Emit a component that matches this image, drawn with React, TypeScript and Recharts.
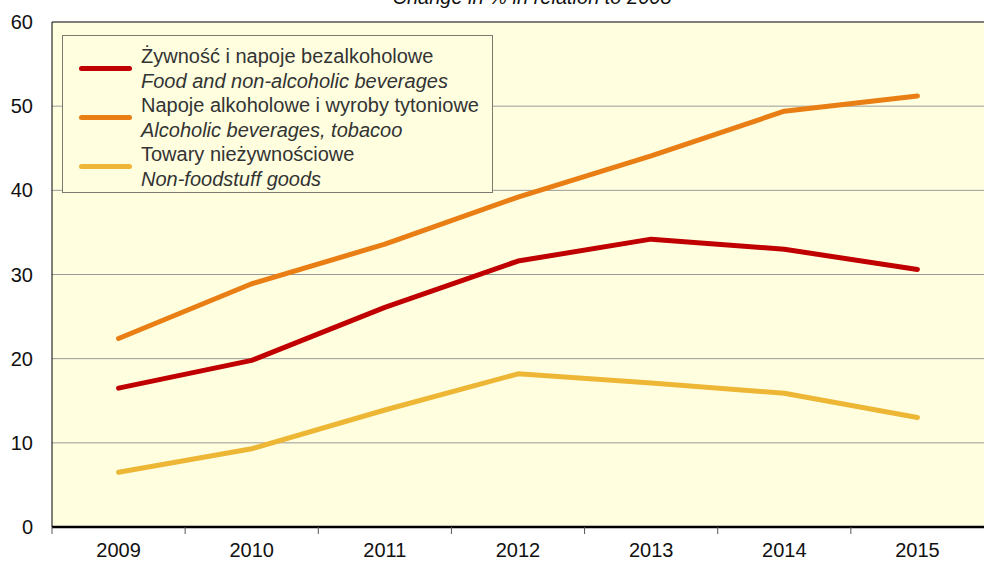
import React from 'react';
import { LineChart, Line, XAxis, YAxis, CartesianGrid, ReferenceLine, Legend, Customized } from 'recharts';

const years = ['2009', '2010', '2011', '2012', '2013', '2014', '2015'];
const food = [16.5, 19.8, 26.1, 31.6, 34.2, 33.0, 30.6];
const alcohol = [22.4, 28.9, 33.6, 39.2, 44.1, 49.4, 51.2];
const nonFood = [6.5, 9.3, 13.9, 18.2, 17.1, 15.9, 13.0];
const yTicks = [0, 10, 20, 30, 40, 50, 60];

const seriesInfo = [
  { key: 'food', color: '#C00000', pl: 'Żywność i napoje bezalkoholowe', en: 'Food and non-alcoholic beverages' },
  { key: 'alcohol', color: '#E97E14', pl: 'Napoje alkoholowe i wyroby tytoniowe', en: 'Alcoholic beverages, tobacoo' },
  { key: 'nonFood', color: '#EDB735', pl: 'Towary nieżywnościowe', en: 'Non-foodstuff goods' },
];

const data = years.map((y, i) => ({ year: y, food: food[i], alcohol: alcohol[i], nonFood: nonFood[i] }));

const W = 984;
const H = 561;
const LEFT = 52;
const BAND = (W - LEFT) / years.length;
const FONT = '"Liberation Sans", Arial, sans-serif';

const XTick = (props: any) => {
  const { x, y, payload } = props;
  const bx = x - BAND / 2;
  return (
    <g>
      <line x1={bx} x2={bx} y1={y} y2={y + 7} stroke="#555" strokeWidth={1} />
      <text x={x} y={y + 30} textAnchor="middle" fontSize={20} fill="#111" fontFamily={FONT}>
        {payload.value}
      </text>
    </g>
  );
};

const LegendBox = () => (
  <div
    style={{
      width: 431,
      height: 158,
      boxSizing: 'border-box',
      border: '1px solid #7a7a72',
      background: '#FFFFE0',
      paddingTop: 8,
      fontFamily: FONT,
      fontSize: 20,
      color: '#333',
      lineHeight: '24.5px',
    }}
  >
    {seriesInfo.map((s) => (
      <div key={s.key} style={{ display: 'flex', alignItems: 'center' }}>
        <div style={{ width: 53, height: 5, borderRadius: 3, background: s.color, marginLeft: 16, marginRight: 9 }} />
        <div>
          <div style={{ whiteSpace: 'nowrap' }}>{s.pl}</div>
          <div style={{ whiteSpace: 'nowrap', fontStyle: 'italic' }}>{s.en}</div>
        </div>
      </div>
    ))}
  </div>
);

const Title = () => (
  <text x={532} y={4} textAnchor="middle" fontSize={20} fontStyle="italic" fill="#111" fontFamily={FONT}>
    Change in % in relation to 2008
  </text>
);

export default function App() {
  return (
    <div style={{ position: 'absolute', left: 0, top: 0, width: W, height: H, background: '#fff' }}>
      <LineChart width={W} height={H} data={data} margin={{ top: 22, right: 0, bottom: 0, left: 0 }}>
        <CartesianGrid vertical={false} stroke="#999" strokeWidth={1} fill="#FFFFE0" />
        <XAxis
          dataKey="year"
          scale="band"
          height={34}
          tickLine={false}
          tickSize={0}
          tickMargin={0}
          tick={<XTick />}
          axisLine={{ stroke: '#000', strokeWidth: 2.5 }}
          interval={0}
        />
        <YAxis
          width={LEFT}
          domain={[0, 60]}
          ticks={yTicks}
          tickLine={false}
          tickSize={0}
          tickMargin={19}
          axisLine={{ stroke: '#000', strokeWidth: 1 }}
          tick={{ fontSize: 20, fill: '#111', fontFamily: FONT }}
          interval={0}
        />
        <ReferenceLine y={60} stroke="#333" strokeWidth={1} />
        {seriesInfo.map((s) => (
          <Line
            key={s.key}
            type="linear"
            dataKey={s.key}
            stroke={s.color}
            strokeWidth={5}
            strokeLinecap="round"
            strokeLinejoin="round"
            dot={false}
            activeDot={false}
            isAnimationActive={false}
          />
        ))}
        <Legend
          layout="vertical"
          align="center"
          verticalAlign="middle"
          content={<LegendBox />}
          wrapperStyle={{ left: 62, top: 35, width: 431, height: 158 }}
        />
        <Customized component={<Title />} />
      </LineChart>
    </div>
  );
}
